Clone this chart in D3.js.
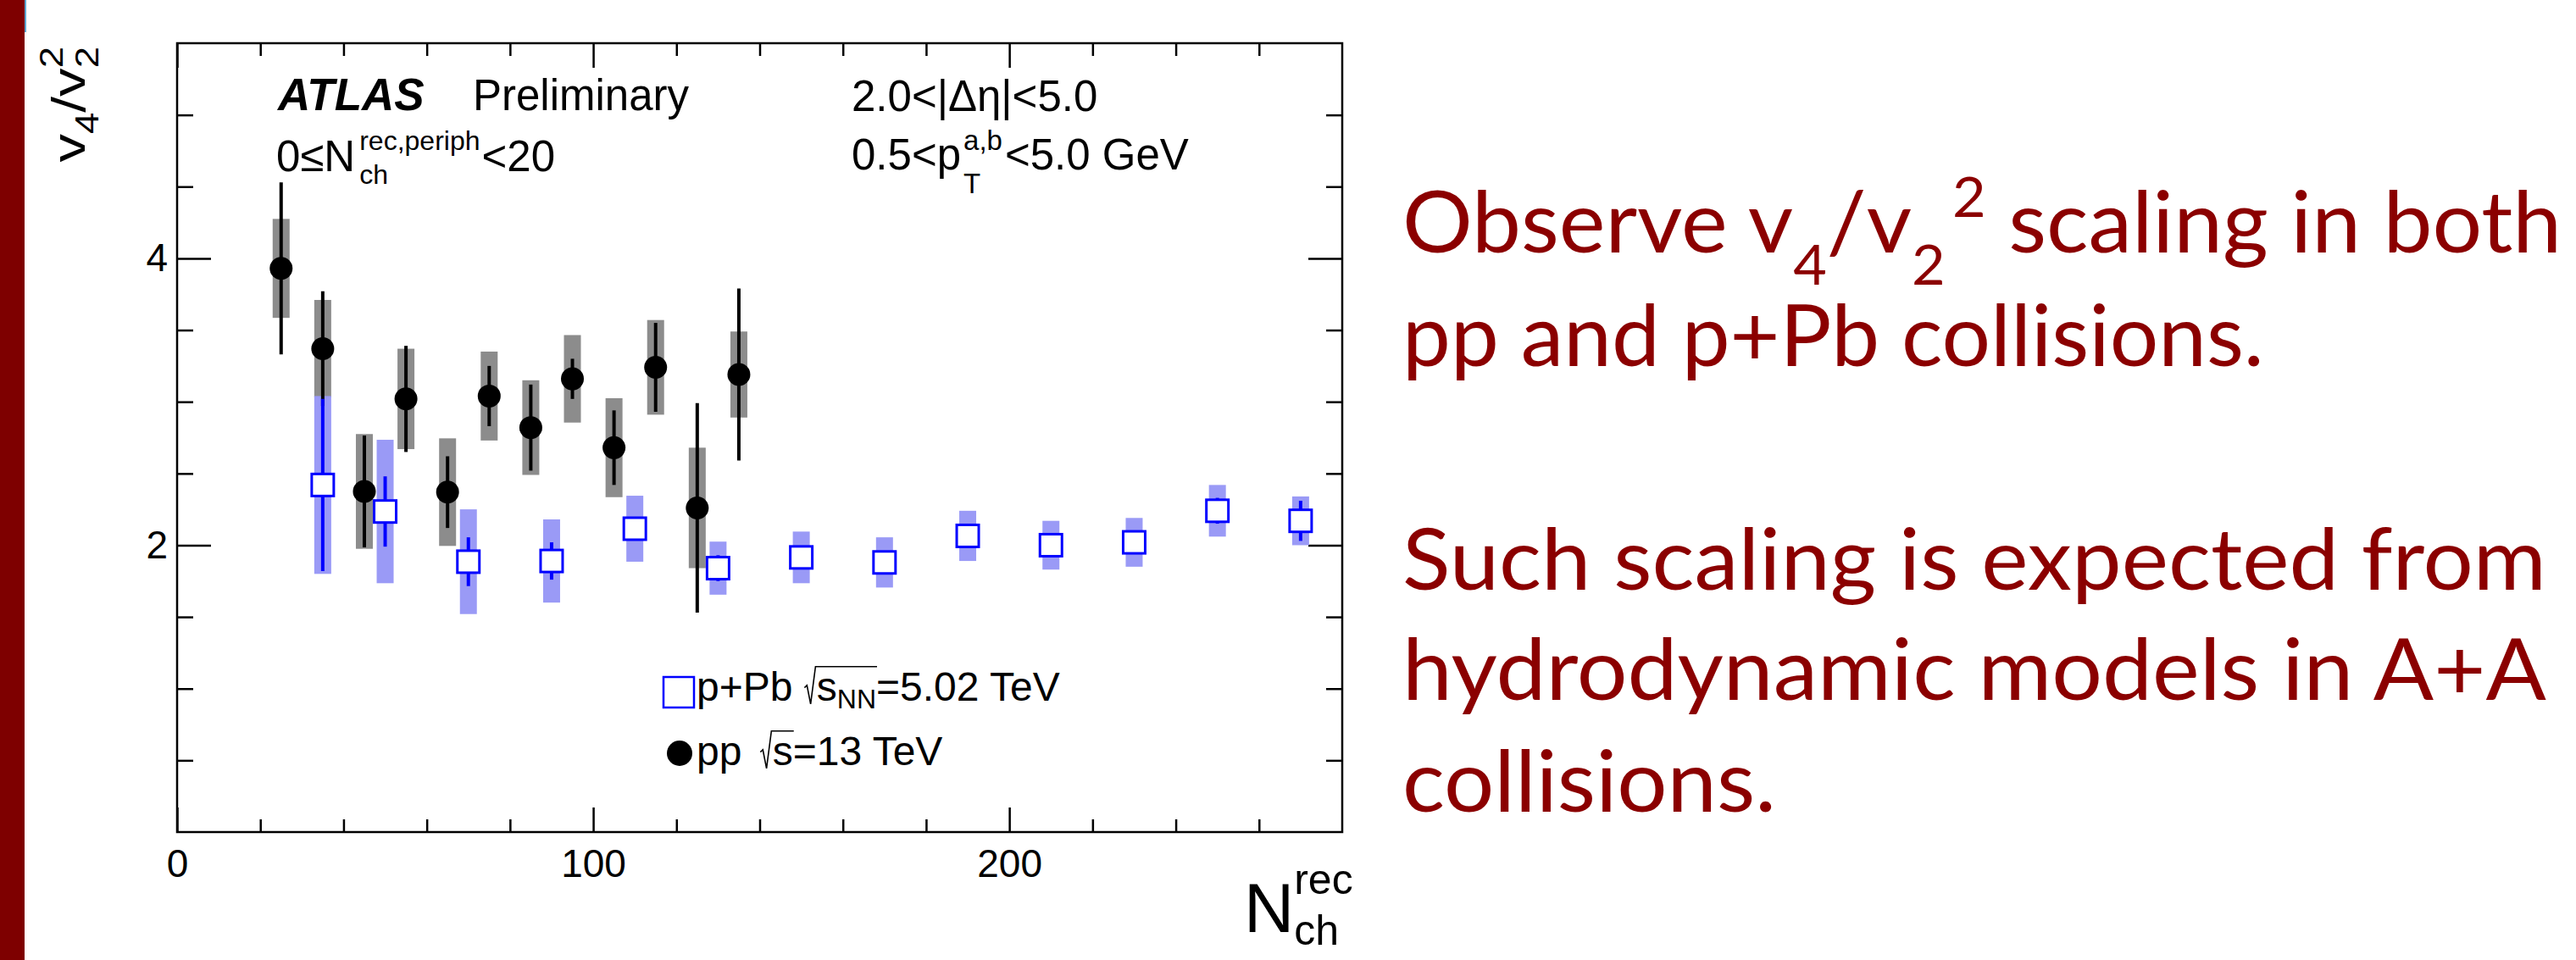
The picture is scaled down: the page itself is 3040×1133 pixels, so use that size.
<!DOCTYPE html>
<html>
<head>
<meta charset="utf-8">
<script src="https://cdn.jsdelivr.net/npm/d3@7"></script>
<style>
  body { margin: 0; background: #fff; }
  svg { display: block; }
  text { white-space: pre; }
</style>
</head>
<body>
<div id="chart"></div>
<script>
// pp sqrt(s)=13 TeV : Nch, v4/v2^2, stat and sys half-widths
var ppNch  = [25, 35, 45, 55, 65, 75, 85, 95, 105, 115, 125, 135];
var ppVal  = [3.93, 3.37, 2.375, 3.02, 2.37, 3.04, 2.82, 3.16, 2.68, 3.24, 2.26, 3.19];
var ppStat = [0.60, 0.40, 0.39, 0.37, 0.25, 0.21, 0.30, 0.14, 0.26, 0.31, 0.73, 0.60];
var ppSys  = [0.345, 0.34, 0.40, 0.35, 0.375, 0.31, 0.33, 0.305, 0.345, 0.33, 0.42, 0.30];

// p+Pb sqrt(sNN)=5.02 TeV
var ppbNch  = [35, 50, 70, 90, 110, 130, 150, 170, 190, 210, 230, 250, 270];
var ppbVal  = [2.42, 2.235, 1.885, 1.89, 2.115, 1.84, 1.915, 1.88, 2.065, 2.00, 2.02, 2.24, 2.17];
var ppbStat = [0.60, 0.245, 0.17, 0.13, 0.06, 0.09, 0.05, 0.05, 0.05, 0.05, 0.05, 0.09, 0.14];
var ppbSys  = [0.62, 0.50, 0.365, 0.29, 0.23, 0.185, 0.18, 0.175, 0.175, 0.17, 0.17, 0.18, 0.17];

// ticks
var xMajor = [0, 100, 200];
var xMinor = [20, 40, 60, 80, 120, 140, 160, 180, 220, 240, 260];
var yMajor = [2, 4];
var yMinor = [0.5, 1, 1.5, 2.5, 3, 3.5, 4.5, 5];

var svgWidth = 3040;
var svgHeight = 1133;
var frame = {left: 209, right: 1584, top: 51, bottom: 982};
var rootFont = "'Liberation Sans', Arial, Helvetica, sans-serif";
var slideFont = "Lato, 'Open Sans', sans-serif";
var slideRed = "#8b0000";

var svg = d3.select("#chart")
  .append("svg")
  .attr("width", svgWidth)
  .attr("height", svgHeight);

svg.append("rect").attr("width", svgWidth).attr("height", svgHeight).attr("fill", "#fff");

// slide decoration on the left
svg.append("rect").attr("x", 0).attr("y", 0).attr("width", 29).attr("height", svgHeight).attr("fill", "#7e0000");
svg.append("rect").attr("x", 29).attr("y", 0).attr("width", 2).attr("height", 38).attr("fill", "#5fa6cf");

var x = d3.scaleLinear().domain([0, 280]).range([frame.left, frame.right]);
var y = d3.scaleLinear().domain([0, 5.5]).range([frame.bottom, frame.top]);

// rich text helper: pieces laid out one after another, with stacked sub/sup and ROOT-like sqrt
function rich(parent, parts, o) {
  var g = parent.append("g");
  var inner = g.append("g");
  var cx = 0;
  function put(p, px) {
    var t = inner.append("text")
      .attr("x", px)
      .attr("y", p.dy || 0)
      .style("font-family", o.family || rootFont)
      .style("font-size", (p.size || o.size) + "px")
      .style("font-weight", p.weight || "normal")
      .style("font-style", p.style || "normal")
      .attr("fill", o.fill || "#000")
      .text(p.t);
    return t.node().getComputedTextLength();
  }
  parts.forEach(function(p) {
    if (p.stack) {
      var w = 0;
      p.stack.forEach(function(q) { w = Math.max(w, put(q, cx)); });
      cx += w;
    } else if (p.sqrt) {
      var s = o.size;
      var x0 = cx;
      var top = -0.84 * s;
      cx += 0.30 * s;
      p.sqrt.forEach(function(q) { cx += put(q, cx); });
      inner.append("path")
        .attr("d", "M" + x0 + "," + (-0.32 * s) + " L" + (x0 + 0.06 * s) + "," + (-0.38 * s) +
          " L" + (x0 + 0.15 * s) + "," + (0.08 * s) + " L" + (x0 + 0.27 * s) + "," + top +
          " L" + (cx + 0.02 * s) + "," + top)
        .attr("fill", "none")
        .attr("stroke", o.fill || "#000")
        .attr("stroke-width", 1.6);
    } else if (p.gap) {
      cx += p.gap;
    } else {
      cx += put(p, cx);
    }
  });
  if (o.anchor === "end") inner.attr("transform", "translate(" + (-cx) + ",0)");
  var tr = "translate(" + o.x + "," + o.y + ")";
  if (o.rotate) tr += " rotate(" + o.rotate + ")";
  if (o.sx) tr += " scale(" + o.sx + ",1)";
  g.attr("transform", tr);
  return {g: g, width: cx, x: o.x, y: o.y};
}

// one <text> with tspans (plain runs, sub/superscripts via dy)
function line(parent, runs, o) {
  var g = parent.append("g");
  var t = g.append("text")
    .style("font-family", o.family)
    .style("font-size", o.size + "px")
    .attr("fill", o.fill);
  var level = 0;
  runs.forEach(function(r) {
    var shift = r.shift || 0;
    var ts = t.append("tspan").attr("dy", shift - level).text(r.t);
    if (r.size) ts.style("font-size", r.size + "px");
    if (r.dx) ts.attr("dx", r.dx);
    level = shift;
  });
  g.attr("transform", "translate(" + o.x + "," + o.y + ")");
  return {g: g, width: t.node().getComputedTextLength(), x: o.x, y: o.y};
}

// ---- axes (ROOT style: inward ticks on all four sides)
function styleAxis(sel) {
  sel.select(".domain").remove();
  sel.selectAll(".tick line").attr("stroke", "#000").attr("stroke-width", 2.5);
  sel.selectAll(".tick text")
    .style("font-family", rootFont)
    .style("font-size", "46px")
    .attr("fill", "#000");
}

svg.append("g")
  .attr("transform", "translate(0," + frame.bottom + ")")
  .call(d3.axisBottom(x).tickValues(xMajor).tickSizeInner(-29).tickSizeOuter(0).tickPadding(20).tickFormat(d3.format("d")))
  .call(styleAxis);
svg.append("g")
  .attr("transform", "translate(0," + frame.bottom + ")")
  .call(d3.axisBottom(x).tickValues(xMinor).tickSizeInner(-15).tickSizeOuter(0).tickFormat(""))
  .call(styleAxis);
svg.append("g")
  .attr("transform", "translate(0," + frame.top + ")")
  .call(d3.axisTop(x).tickValues(xMajor).tickSizeInner(-29).tickSizeOuter(0).tickFormat(""))
  .call(styleAxis);
svg.append("g")
  .attr("transform", "translate(0," + frame.top + ")")
  .call(d3.axisTop(x).tickValues(xMinor).tickSizeInner(-15).tickSizeOuter(0).tickFormat(""))
  .call(styleAxis);

svg.append("g")
  .attr("transform", "translate(" + frame.left + ",0)")
  .call(d3.axisLeft(y).tickValues(yMajor).tickSizeInner(-40).tickSizeOuter(0).tickPadding(11).tickFormat(d3.format("d")))
  .call(styleAxis);
svg.append("g")
  .attr("transform", "translate(" + frame.left + ",0)")
  .call(d3.axisLeft(y).tickValues(yMinor).tickSizeInner(-19).tickSizeOuter(0).tickFormat(""))
  .call(styleAxis);
svg.append("g")
  .attr("transform", "translate(" + frame.right + ",0)")
  .call(d3.axisRight(y).tickValues(yMajor).tickSizeInner(-40).tickSizeOuter(0).tickFormat(""))
  .call(styleAxis);
svg.append("g")
  .attr("transform", "translate(" + frame.right + ",0)")
  .call(d3.axisRight(y).tickValues(yMinor).tickSizeInner(-19).tickSizeOuter(0).tickFormat(""))
  .call(styleAxis);

svg.append("rect")
  .attr("x", frame.left).attr("y", frame.top)
  .attr("width", frame.right - frame.left)
  .attr("height", frame.bottom - frame.top)
  .attr("fill", "none")
  .attr("stroke", "#000")
  .attr("stroke-width", 2.5);

// ---- data
var pp = ppNch.map(function(n, i) { return {n: n, v: ppVal[i], stat: ppStat[i], sys: ppSys[i]}; });
var ppb = ppbNch.map(function(n, i) { return {n: n, v: ppbVal[i], stat: ppbStat[i], sys: ppbSys[i]}; });
var boxW = 20;

var plot = svg.append("g");

// systematic boxes
plot.selectAll(".ppsys").data(pp).enter().append("rect")
  .attr("x", d => x(d.n) - boxW / 2)
  .attr("y", d => y(d.v + d.sys))
  .attr("width", boxW)
  .attr("height", d => y(d.v - d.sys) - y(d.v + d.sys))
  .attr("fill", "#8c8c8c");

plot.selectAll(".ppbsys").data(ppb).enter().append("rect")
  .attr("x", d => x(d.n) - boxW / 2)
  .attr("y", d => y(d.v + d.sys))
  .attr("width", boxW)
  .attr("height", d => y(d.v - d.sys) - y(d.v + d.sys))
  .attr("fill", "#9a9af6");

// pp stat bars and markers
plot.selectAll(".ppstat").data(pp).enter().append("line")
  .attr("x1", d => x(d.n)).attr("x2", d => x(d.n))
  .attr("y1", d => y(d.v + d.stat)).attr("y2", d => y(d.v - d.stat))
  .attr("stroke", "#000").attr("stroke-width", 4);

plot.selectAll(".ppdot").data(pp).enter().append("circle")
  .attr("cx", d => x(d.n)).attr("cy", d => y(d.v))
  .attr("r", 13.5)
  .attr("fill", "#000");

// p+Pb stat bars and open squares
plot.selectAll(".ppbstat").data(ppb).enter().append("line")
  .attr("x1", d => x(d.n)).attr("x2", d => x(d.n))
  .attr("y1", d => y(d.v + d.stat)).attr("y2", d => y(d.v - d.stat))
  .attr("stroke", "#0000ff").attr("stroke-width", 4);

plot.selectAll(".ppbsq").data(ppb).enter().append("rect")
  .attr("x", d => x(d.n) - 13)
  .attr("y", d => y(d.v) - 13)
  .attr("width", 26).attr("height", 26)
  .attr("fill", "#fff")
  .attr("stroke", "#0000ff")
  .attr("stroke-width", 3);

// ---- labels inside the frame
rich(svg, [{t: "ATLAS", weight: "bold", style: "italic"}], {x: 328, y: 130, size: 53});
rich(svg, [{t: "Preliminary"}], {x: 558, y: 130, size: 51});
rich(svg, [
  {t: "0≤N"}, {gap: 5},
  {stack: [{t: "rec,periph", size: 32, dy: -25}, {t: "ch", size: 32, dy: 15}]},
  {gap: 2}, {t: "<20"}
], {x: 326, y: 202, size: 51});

rich(svg, [{t: "2.0<|Δη|<5.0"}], {x: 1005, y: 131, size: 51});
rich(svg, [
  {t: "0.5<p"}, {gap: 3},
  {stack: [{t: "a,b", size: 33, dy: -23}, {t: "T", size: 33, dy: 28}]},
  {gap: 3}, {t: "<5.0 GeV"}
], {x: 1005, y: 200, size: 51});

// legend
svg.append("rect")
  .attr("x", 783).attr("y", 799).attr("width", 36).attr("height", 36)
  .attr("fill", "#fff").attr("stroke", "#0000ff").attr("stroke-width", 2.5);
svg.append("circle").attr("cx", 802).attr("cy", 889).attr("r", 15).attr("fill", "#000");
rich(svg, [
  {t: "p+Pb"}, {gap: 14},
  {sqrt: [{t: "s"}, {t: "NN", size: 32, dy: 9}]},
  {t: "=5.02 TeV"}
], {x: 822, y: 827, size: 48});
rich(svg, [
  {t: "pp"}, {gap: 22},
  {sqrt: [{t: "s"}]},
  {t: "=13 TeV"}
], {x: 822, y: 903, size: 48});

// axis titles
rich(svg, [
  {t: "v"}, {t: "4", size: 38, dy: 16}, {t: "/v"},
  {stack: [{t: "2", size: 38, dy: -26}, {t: "2", size: 38, dy: 16}]}
], {x: 100, y: 55, size: 56, rotate: -90, anchor: "end", sx: 1.2});

rich(svg, [
  {t: "N"},
  {stack: [{t: "rec", size: 50, dy: -45}, {t: "ch", size: 50, dy: 15}]}
], {x: 1468, y: 1100, size: 82});

// ---- slide text on the right, each line fitted to its width on the slide
var lineX = 1655;
var slide = {x: lineX, size: 100, family: slideFont, fill: slideRed};
var lines = [
  {end: 3015, l: line(svg, [
    {t: "Observe v"}, {t: "4", size: 66, shift: 38}, {t: "/v"}, {t: "2", size: 66, shift: 38},
    {t: "2", size: 66, shift: -42, dx: 8}, {t: " scaling in both"}
  ], Object.assign({y: 298}, slide))},
  {end: 2672, l: line(svg, [{t: "pp and p+Pb collisions."}], Object.assign({y: 432}, slide))},
  {end: 3005, l: line(svg, [{t: "Such scaling is expected from"}], Object.assign({y: 696}, slide))},
  {end: 3005, l: line(svg, [{t: "hydrodynamic models in A+A"}], Object.assign({y: 826}, slide))},
  {end: 2096, l: line(svg, [{t: "collisions."}], Object.assign({y: 958}, slide))}
];
lines.forEach(function(d) {
  var s = (d.end - lineX) / d.l.width;
  d.l.g.attr("transform", "translate(" + d.l.x + "," + d.l.y + ") scale(" + s + ",1)");
});
</script>
</body>
</html>
